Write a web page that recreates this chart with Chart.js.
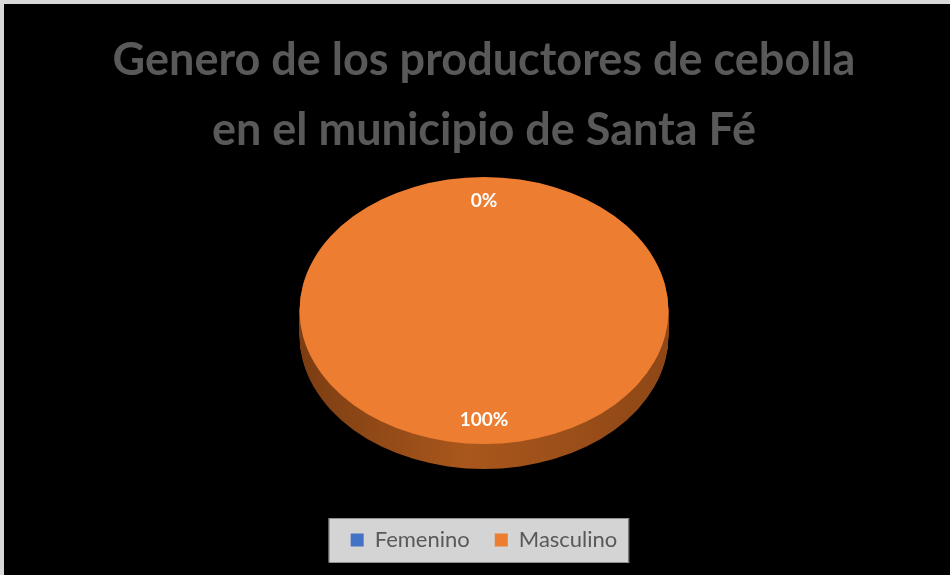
<!DOCTYPE html>
<html>
<head>
<meta charset="utf-8">
<title>Genero de los productores de cebolla</title>
<script src="https://cdn.jsdelivr.net/npm/chart.js@4.4.0/dist/chart.umd.min.js"></script>
<style>
  html, body { margin: 0; padding: 0; background: #d9d9d9; }
  #wrap { position: absolute; left: 4px; top: 4px; width: 946px; height: 571px; background: #000; }
</style>
</head>
<body>
<div id="wrap"><canvas id="pieChart"></canvas></div>
<script>
var categories = ['Femenino', 'Masculino'];
var values = [0, 100];
var sliceColors = ['#4472C4', '#ED7D31'];
var titleLines = ['Genero de los productores de cebolla', 'en el municipio de Santa Fé'];

// look of the tilted pie
var PIE_RADIUS = 184.5;
var TILT = 133.5 / 184.5;   // vertical squash of the top face
var DEPTH = 25;             // thickness of the side

function tilt(ctx, cx, cy) {
  ctx.translate(cx, cy);
  ctx.scale(1, TILT);
  ctx.translate(-cx, -cy);
}

var pie3d = {
  id: 'pie3d',
  beforeDatasetsDraw: function(chart) {
    var ctx = chart.ctx;
    var meta = chart.getDatasetMeta(0);
    var first = meta.data[0];
    var cx = first.x, cy = first.y, r = first.outerRadius;

    var side = ctx.createLinearGradient(cx - r, 0, cx + r, 0);
    side.addColorStop(0, '#7c3d12');
    side.addColorStop(0.45, '#a9571c');
    side.addColorStop(1, '#8e4716');

    for (var d = DEPTH; d > 0; d--) {
      ctx.save();
      ctx.translate(0, d);
      tilt(ctx, cx, cy);
      meta.data.forEach(function(arc) {
        var keep = arc.options;
        arc.options = Object.assign({}, keep, { backgroundColor: side });
        arc.draw(ctx);
        arc.options = keep;
      });
      ctx.restore();
    }
    ctx.save();
    tilt(ctx, cx, cy);
  },
  afterDatasetsDraw: function(chart) {
    var ctx = chart.ctx;
    ctx.restore();

    var meta = chart.getDatasetMeta(0);
    var total = values.reduce(function(a, b) { return a + b; }, 0);
    ctx.save();
    ctx.fillStyle = '#ffffff';
    ctx.font = 'bold 19px Lato';
    ctx.textAlign = 'center';
    ctx.textBaseline = 'middle';
    meta.data.forEach(function(arc, i) {
      var mid = (arc.startAngle + arc.endAngle) / 2;
      var rr = arc.outerRadius * 0.82;
      var x = arc.x + Math.cos(mid) * rr;
      var y = arc.y + Math.sin(mid) * rr * TILT;
      ctx.fillText(Math.round(values[i] / total * 100) + '%', x, y);
    });
    ctx.restore();
  }
};

var legendBox = {
  id: 'legendBox',
  beforeDraw: function(chart) {
    var boxes = chart.legend && chart.legend.legendHitBoxes;
    if (!boxes || !boxes.length) return;
    var left = Math.min.apply(null, boxes.map(function(b) { return b.left; }));
    var right = Math.max.apply(null, boxes.map(function(b) { return b.left + b.width; }));
    var mid = boxes[0].top + boxes[0].height / 2;
    var ctx = chart.ctx;
    ctx.save();
    ctx.fillStyle = '#d4d4d4';
    ctx.strokeStyle = '#8f8f8f';
    ctx.lineWidth = 1;
    ctx.fillRect(left - 22, mid - 22, right - left + 33, 44);
    ctx.strokeRect(left - 22 + 0.5, mid - 22 + 0.5, right - left + 33, 44);
    ctx.restore();
  }
};

var ctx = document.getElementById('pieChart').getContext('2d');
var genderChart = new Chart(ctx, {
  type: 'pie',
  data: {
    labels: categories,
    datasets: [{
      data: values,
      backgroundColor: sliceColors,
      borderWidth: 0,
      radius: PIE_RADIUS
    }]
  },
  options: {
    responsive: true,
    maintainAspectRatio: false,
    animation: false,
    events: [],
    layout: {
      padding: { left: 14, right: 0, top: 0, bottom: 14 }
    },
    plugins: {
      title: {
        display: true,
        text: titleLines,
        color: '#595959',
        font: { family: 'Lato', size: 45, weight: 'bold', lineHeight: 70 / 45 },
        padding: { top: 21, bottom: -48 }
      },
      legend: {
        position: 'bottom',
        labels: {
          color: '#595959',
          font: { family: 'Lato', size: 22 },
          boxWidth: 13,
          boxHeight: 13,
          padding: 25
        }
      },
      tooltip: { enabled: false }
    }
  },
  plugins: [pie3d, legendBox]
});
</script>
</body>
</html>
